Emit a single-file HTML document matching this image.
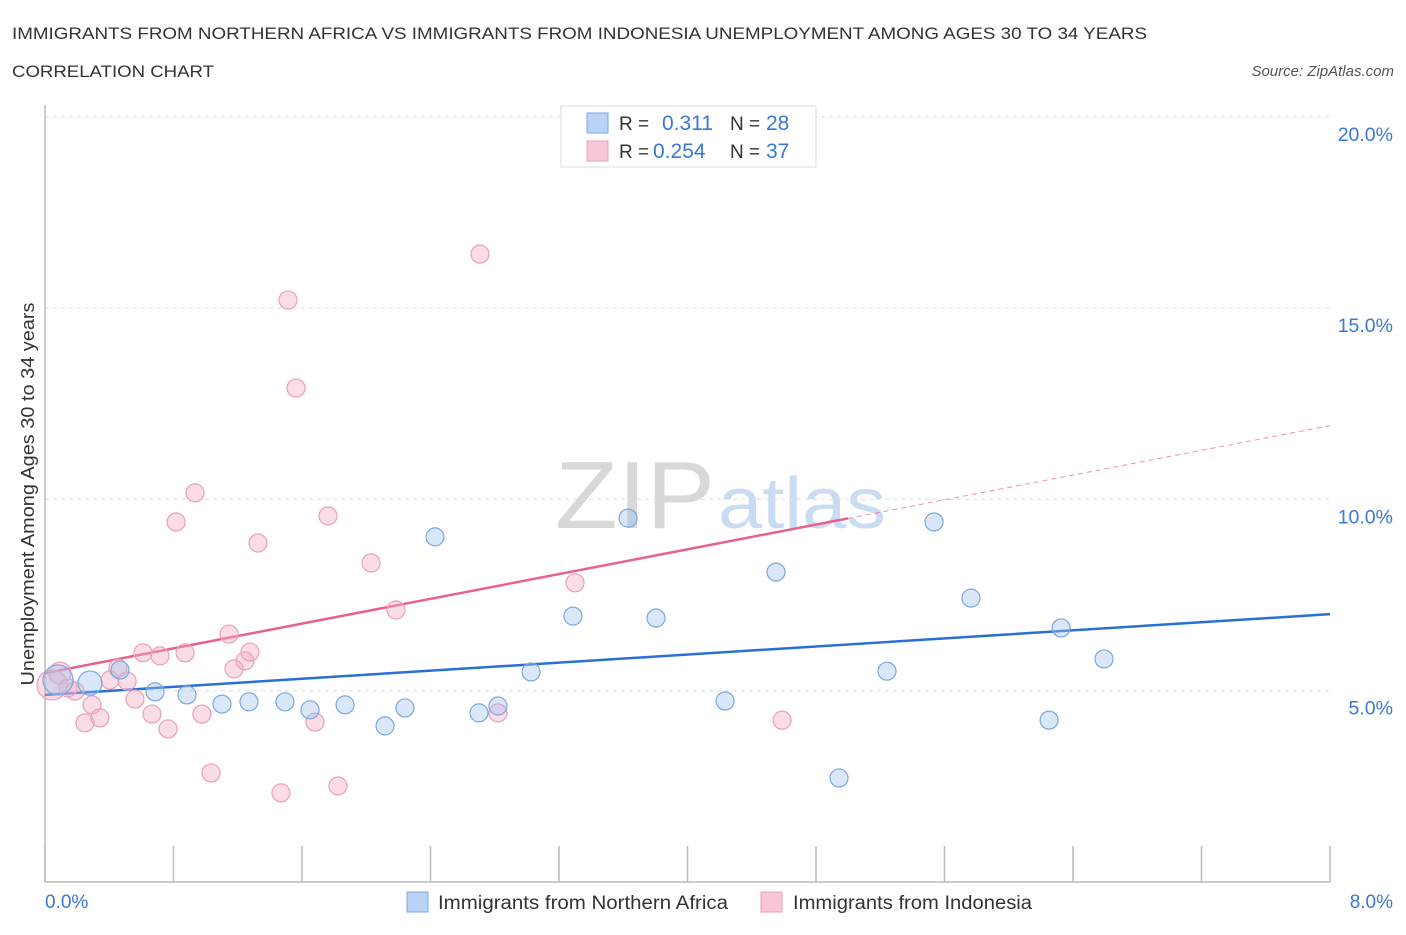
<!DOCTYPE html>
<html><head><meta charset="utf-8"><style>
body{margin:0;background:#fff;font-family:"Liberation Sans",sans-serif;}
svg text{font-family:"Liberation Sans",sans-serif;}
</style></head><body>
<svg id="chart" width="1406" height="930" viewBox="0 0 1406 930" xmlns="http://www.w3.org/2000/svg">
<text x="12" y="39" font-size="17" fill="#333" textLength="1135" lengthAdjust="spacingAndGlyphs">IMMIGRANTS FROM NORTHERN AFRICA VS IMMIGRANTS FROM INDONESIA UNEMPLOYMENT AMONG AGES 30 TO 34 YEARS</text>
<text x="12" y="77" font-size="17" fill="#333" textLength="202" lengthAdjust="spacingAndGlyphs">CORRELATION CHART</text>
<text x="1394" y="76" font-size="15" fill="#555" font-style="italic" text-anchor="end">Source: ZipAtlas.com</text>
<text x="555" y="528" font-size="96" fill="#d8d8d8" textLength="160" lengthAdjust="spacingAndGlyphs" font-family="Liberation Serif">ZIP</text>
<text x="718" y="528" font-size="72" fill="#c9dcf2" textLength="168" lengthAdjust="spacingAndGlyphs">atlas</text>
<g id="grid"></g>
<g id="axes"></g>
<g id="lines"></g>
<g id="points"></g>
<text transform="translate(34,494) rotate(-90)" font-size="18" fill="#333" text-anchor="middle" textLength="383" lengthAdjust="spacingAndGlyphs">Unemployment Among Ages 30 to 34 years</text>
<text x="45" y="908" font-size="19" fill="#3a78d6">0.0%</text>
<text x="1393" y="908" font-size="19" fill="#3a78d6" text-anchor="end">8.0%</text>
<g>
<rect x="561" y="106" width="255" height="61" fill="#fff" stroke="#ddd"/>
<rect x="587" y="113" width="21" height="20" fill="#b8d3f5" stroke="#7aa8e0"/>
<rect x="587" y="141" width="21" height="20" fill="#f8c6d6" stroke="#eaa0b8"/>
<text x="619" y="130" font-size="19" fill="#333">R =</text>
<text x="662" y="130" font-size="21" fill="#3a78d6">0.311</text>
<text x="730" y="130" font-size="19" fill="#333">N =</text>
<text x="766" y="130" font-size="21" fill="#3a78d6">28</text>
<text x="619" y="158" font-size="19" fill="#333">R =</text>
<text x="653" y="158" font-size="21" fill="#3a78d6">0.254</text>
<text x="730" y="158" font-size="19" fill="#333">N =</text>
<text x="766" y="158" font-size="21" fill="#3a78d6">37</text>
</g>
<g>
<rect x="407" y="892" width="21" height="20" fill="#b8d3f5" stroke="#7aa8e0"/>
<text x="438" y="909" font-size="19" fill="#333" textLength="290" lengthAdjust="spacingAndGlyphs">Immigrants from Northern Africa</text>
<rect x="761" y="892" width="21" height="20" fill="#f8c6d6" stroke="#eaa0b8"/>
<text x="793" y="909" font-size="19" fill="#333" textLength="239" lengthAdjust="spacingAndGlyphs">Immigrants from Indonesia</text>
</g>
</svg>
<script>
const yTicks = [5, 10, 15, 20];
const yTickLabels = ["5.0%", "10.0%", "15.0%", "20.0%"];
const xTickVals = [0, 0.8, 1.6, 2.4, 3.2, 4.0, 4.8, 5.6, 6.4, 7.2, 8.0];
const blueX = [0.081,0.280,0.467,0.685,0.884,1.102,1.270,1.494,1.650,1.868,2.117,2.241,2.428,2.702,2.820,3.026,3.287,3.630,3.804,4.234,4.551,4.943,5.242,5.535,5.765,6.251,6.326,6.593];
const blueY = [5.28,5.20,5.54,4.97,4.89,4.65,4.71,4.71,4.50,4.63,4.08,4.55,9.02,4.42,4.60,5.49,6.95,9.51,6.90,4.73,8.10,2.72,5.51,9.41,7.42,4.23,6.64,5.83];
const blueR = [15,12,9,9,9,9,9,9,9,9,9,9,9,9,9,9,9,9,9,9,9,9,9,9,9,9,9,9];
const pinkX = [0.044,0.093,0.143,0.187,0.249,0.293,0.342,0.405,0.454,0.511,0.560,0.610,0.666,0.716,0.766,0.816,0.872,0.934,0.977,1.034,1.146,1.177,1.245,1.276,1.326,1.469,1.513,1.563,1.681,1.762,1.824,2.030,2.185,2.708,2.820,3.300,4.589];
const pinkY = [5.15,5.46,5.07,4.99,4.16,4.63,4.29,5.28,5.59,5.25,4.78,5.99,4.39,5.91,4.00,9.41,5.99,10.17,4.39,2.85,6.48,5.57,5.78,6.01,8.86,2.33,15.21,12.91,4.18,9.57,2.51,8.34,7.11,16.41,4.42,7.82,4.23];
const pinkR = [15,11,9,9,9,9,9,9,9,9,9,9,9,9,9,9,9,9,9,9,9,9,9,9,9,9,9,9,9,9,9,9,9,9,9,9,9];
const blueTrend = [4.89, 7.00];
const pinkTrend = [5.46, 11.93];
const pinkSolidEnd = 5.0;

const NS = "http://www.w3.org/2000/svg";
const X0 = 45, X1 = 1330, Y0 = 882, YPER = 38.26;
const xs = v => X0 + v / 8 * (X1 - X0);
const ys = v => Y0 - v * YPER;
function mk(tag, attrs, parent) {
  const e = document.createElementNS(NS, tag);
  for (const k in attrs) e.setAttribute(k, attrs[k]);
  document.getElementById(parent).appendChild(e);
  return e;
}
yTicks.forEach((t, i) => {
  const g = mk("line", {x1: X0, x2: X1, y1: ys(t), y2: ys(t), stroke: "#ddd", "stroke-dasharray": "4,4"}, "grid");
  
  
  const tx = mk("text", {x: 1393, y: ys(t) + 24, "font-size": 19.5, fill: "#3a78d6", "text-anchor": "end"}, "grid");
  tx.textContent = yTickLabels[i];
  
  
});
const ya = mk("line", {x1: X0, x2: X0, y1: 105, y2: Y0, stroke: "#bbb", "stroke-width": 1.5}, "axes");


const xa = mk("line", {x1: X0, x2: X1, y1: Y0, y2: Y0, stroke: "#bbb", "stroke-width": 1.5}, "axes");


xTickVals.forEach(t => {
  const l = mk("line", {x1: xs(t), x2: xs(t), y1: 846, y2: Y0, stroke: "#bbb", "stroke-width": 1.5}, "axes");
  
  
});
const bl = mk("line", {x1: xs(0), x2: xs(8), y1: ys(blueTrend[0]), y2: ys(blueTrend[1]), stroke: "#2a6fd6", "stroke-width": 2.5}, "lines");


const pm = pinkTrend[0] + (pinkTrend[1] - pinkTrend[0]) * pinkSolidEnd / 8;
const pl = mk("line", {x1: xs(0), x2: xs(pinkSolidEnd), y1: ys(pinkTrend[0]), y2: ys(pm), stroke: "#e8618c", "stroke-width": 2.5}, "lines");


const pd = mk("line", {x1: xs(pinkSolidEnd), x2: xs(8), y1: ys(pm), y2: ys(pinkTrend[1]), stroke: "#e8618c", "stroke-width": 1, "stroke-dasharray": "5,4", opacity: 0.7}, "lines");


pinkX.forEach((v, i) => {
  const c = mk("circle", {cx: xs(v), cy: ys(pinkY[i]), r: pinkR[i], fill: "rgba(244,170,195,0.4)", stroke: "#eaa0b8", "stroke-width": 1.2}, "points");
  
  
});
blueX.forEach((v, i) => {
  const c = mk("circle", {cx: xs(v), cy: ys(blueY[i]), r: blueR[i], fill: "rgba(160,196,240,0.4)", stroke: "#7aa8e0", "stroke-width": 1.2}, "points");
  
  
});
</script>
</body></html>
